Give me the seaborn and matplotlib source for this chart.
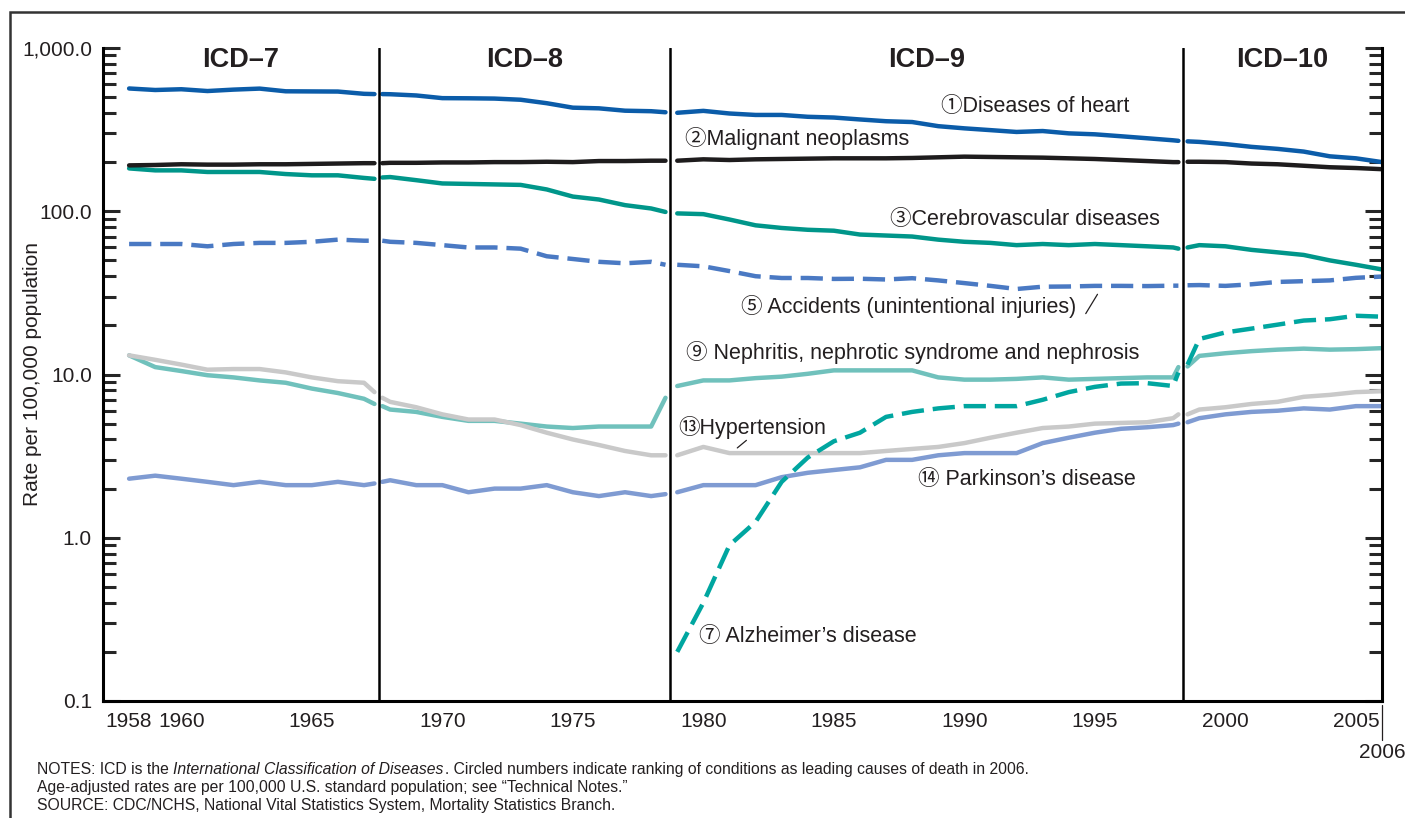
import numpy as np
import pandas as pd
import seaborn as sns
import matplotlib
matplotlib.use("Agg")
import matplotlib.pyplot as plt
from matplotlib.patches import Rectangle
from matplotlib.ticker import LogLocator, NullFormatter

# ------------------------------------------------------------
# DATA  (age-adjusted death rates per 100,000)
# ------------------------------------------------------------
# x positions inside each ICD revision (first/last entries are the
# bridging points drawn right next to the revision boundaries)
years_icd7 = [1958, 1959, 1960, 1961, 1962, 1963, 1964, 1965, 1966, 1967, 1967.4]
years_icd8 = [1967.7, 1968, 1969, 1970, 1971, 1972, 1973, 1974, 1975, 1976, 1977, 1978, 1978.55]
years_icd9 = [1979, 1980, 1981, 1982, 1983, 1984, 1985, 1986, 1987, 1988, 1989,
              1990, 1991, 1992, 1993, 1994, 1995, 1996, 1997, 1998, 1998.2]
years_icd10 = [1998.55, 1999, 2000, 2001, 2002, 2003, 2004, 2005, 2006]

icd_names = ["ICD\u20137", "ICD\u20138", "ICD\u20139", "ICD\u201310"]
icd_bounds = [1967.57, 1978.72, 1998.38]

heart = [565, 553, 559, 545, 556, 564, 543, 542, 541, 524, 522,
         522, 521, 512, 493, 492, 490, 482, 459, 431, 427, 413, 410, 404,
         401, 412, 397, 389, 389, 379, 375, 365, 356, 352, 332, 322, 314, 306, 310, 300, 296, 288, 280, 272, 270,
         268, 266, 258, 248, 241, 232, 217, 211, 200]
cancer = [191, 192, 194, 193, 193, 194, 194, 195, 196, 197, 197,
          197, 198, 198, 199, 199, 200, 200, 201, 200, 203, 203, 204, 204,
          204, 208, 206, 208, 209, 210, 211, 211, 211, 212, 214, 216, 215, 214, 213, 211, 209, 206, 203, 200, 200,
          201, 201, 200, 196, 194, 190, 186, 184, 181]
stroke = [183, 178, 178, 174, 174, 174, 169, 166, 166, 160, 158,
          161, 162, 155, 148, 147, 146, 145, 136, 123, 118, 109, 104, 99,
          97, 96, 89, 82, 79, 77, 76, 72, 71, 70, 67, 65, 64, 62, 63, 62, 63, 62, 61, 60, 59,
          60, 62, 61, 58, 56, 54, 50, 47, 44]
accidents = [63, 63, 63, 61, 63, 64, 64, 65, 67, 66, 66,
             66, 65, 64, 62, 60, 60, 59, 53, 51, 49, 48, 49, 47,
             47, 46, 43, 40, 39, 39, 38.5, 38.6, 38.2, 38.9, 37.7, 36.3, 34.9, 33.4, 34.5, 34.6, 34.9, 34.9, 34.8, 35.0, 35.0,
             35.2, 35.3, 34.9, 35.7, 36.9, 37.3, 37.7, 39.1, 39.8]
alzheimer = [None] * 11 + [None] * 13 + \
            [0.2, 0.4, 0.9, 1.25, 2.2, 3.1, 3.9, 4.4, 5.5, 5.9, 6.2, 6.4, 6.4, 6.4, 7.0, 7.8, 8.4, 8.8, 8.85, 8.5, 10.3,
             11.5, 16.5, 18.1, 19.1, 20.2, 21.4, 21.8, 22.9, 22.6]
nephritis = [13.1, 11.1, 10.5, 9.9, 9.6, 9.2, 8.9, 8.2, 7.7, 7.1, 6.6,
             6.4, 6.1, 5.9, 5.5, 5.2, 5.2, 5.0, 4.8, 4.7, 4.8, 4.8, 4.8, 7.2,
             8.5, 9.2, 9.2, 9.5, 9.7, 10.1, 10.6, 10.6, 10.6, 10.6, 9.6, 9.3, 9.3, 9.4, 9.6, 9.3, 9.4, 9.5, 9.6, 9.6, 11.1,
             11.2, 13.0, 13.5, 13.9, 14.2, 14.4, 14.2, 14.3, 14.5]
hypertension = [13.1, 12.3, 11.5, 10.7, 10.8, 10.8, 10.3, 9.6, 9.1, 8.9, 7.8,
                7.2, 6.8, 6.3, 5.7, 5.3, 5.3, 4.9, 4.4, 4.0, 3.7, 3.4, 3.2, 3.2,
                3.2, 3.6, 3.3, 3.3, 3.3, 3.3, 3.3, 3.3, 3.4, 3.5, 3.6, 3.8, 4.1, 4.4, 4.7, 4.8, 5.0, 5.05, 5.1, 5.4, 5.7,
                5.7, 6.1, 6.3, 6.6, 6.8, 7.3, 7.5, 7.8, 7.9]
parkinson = [2.3, 2.4, 2.3, 2.2, 2.1, 2.2, 2.1, 2.1, 2.2, 2.1, 2.15,
             2.2, 2.25, 2.1, 2.1, 1.9, 2.0, 2.0, 2.1, 1.9, 1.8, 1.9, 1.8, 1.85,
             1.9, 2.1, 2.1, 2.1, 2.35, 2.5, 2.6, 2.7, 3.0, 3.0, 3.2, 3.3, 3.3, 3.3, 3.8, 4.1, 4.4, 4.65, 4.75, 4.9, 5.0,
             5.1, 5.4, 5.7, 5.9, 6.0, 6.2, 6.1, 6.4, 6.4]

series = {
    "parkinson": parkinson,
    "nephritis": nephritis,
    "hypertension": hypertension,
    "alzheimer": alzheimer,
    "accidents": accidents,
    "stroke": stroke,
    "cancer": cancer,
    "heart": heart,
}

# ------------------------------------------------------------
# LONG FORMAT
# ------------------------------------------------------------
years = years_icd7 + years_icd8 + years_icd9 + years_icd10
segment = ([icd_names[0]] * len(years_icd7) + [icd_names[1]] * len(years_icd8)
           + [icd_names[2]] * len(years_icd9) + [icd_names[3]] * len(years_icd10))

frames = []
for name, vals in series.items():
    frames.append(pd.DataFrame({"year": years, "segment": segment,
                                "rate": vals, "cause": name}))
df = pd.concat(frames, ignore_index=True)
df["rate"] = pd.to_numeric(df["rate"])
df = df.dropna(subset=["rate"])

palette = {
    "heart": "#0B5CA9",
    "cancer": "#1E1C1D",
    "stroke": "#00968A",
    "accidents": "#4A79C3",
    "alzheimer": "#00A6A0",
    "nephritis": "#70C1BC",
    "hypertension": "#C9C9C9",
    "parkinson": "#7F9BD2",
}
dash_map = {k: "" for k in palette}
dash_map["accidents"] = (5, 2)
dash_map["alzheimer"] = (5, 2)
order = list(series.keys())

# ------------------------------------------------------------
# PLOT
# ------------------------------------------------------------
sns.set_style("white")
plt.rcParams["font.family"] = ["Liberation Sans", "Noto Sans CJK SC", "DejaVu Sans"]
ink = "#231F20"

fig = plt.figure(figsize=(14.05, 8.18), dpi=100)
ax = fig.add_axes([103 / 1405, 117 / 818, 1279 / 1405, 653 / 818])
ax.set_yscale("log")

sns.lineplot(data=df, x="year", y="rate", hue="cause", style="cause",
             units="segment", estimator=None, hue_order=order, style_order=order,
             palette=palette, dashes=dash_map, linewidth=3.2, sort=False,
             legend=False, ax=ax)

ax.set_xlim(1957, 2006)
ax.set_ylim(0.1, 1000)

# revision boundaries + headers
for b in icd_bounds:
    ax.axvline(b, color="black", lw=1.8, zorder=5)
edges = [1957] + icd_bounds + [2006]
for i, name in enumerate(icd_names):
    ax.text((edges[i] + edges[i + 1]) / 2, 0.971, name,
            transform=ax.get_xaxis_transform(), ha="center", va="baseline",
            fontsize=19.5, fontweight="bold", color=ink)

# axes styling
for side in ["left", "bottom", "right"]:
    ax.spines[side].set_linewidth(2.2)
    ax.spines[side].set_color("black")
ax.spines["top"].set_visible(False)

ax.set_yticks([0.1, 1, 10, 100, 1000],
              labels=["0.1", "1.0", "10.0", "100.0", "1,000.0"])
ax.yaxis.set_minor_locator(LogLocator(base=10, subs=np.arange(2, 10)))
ax.yaxis.set_minor_formatter(NullFormatter())
ax.tick_params(axis="y", which="major", direction="in", length=12, width=2.2,
               left=True, right=True, labelsize=15, pad=8, labelcolor=ink)
ax.tick_params(axis="y", which="minor", direction="in", length=9.5, width=2.2,
               left=True, right=True)

ax.set_xticks(list(range(1960, 2006, 5)))
minor_years = list(range(1958, 2007))
ax.set_xticks(minor_years, minor=True,
              labels=["1958"] + [""] * (len(minor_years) - 1))
ax.tick_params(axis="x", which="major", direction="in", length=9.5, width=1.6,
               labelsize=15, pad=8, labelcolor=ink)
ax.tick_params(axis="x", which="minor", direction="in", length=5, width=1.6,
               labelsize=15, pad=8, labelcolor=ink)

ax.set_xlabel("")
ax.set_ylabel("")
fig.text(33 / 1405, 1 - 374 / 818, "Rate per 100,000 population", rotation=90,
         ha="center", va="center", fontsize=15, color=ink)

# 2006 marker under the axis
bt = ax.get_xaxis_transform()
ax.plot([2006, 2006], [-0.006, -0.06], transform=bt, color=ink, lw=0.9, clip_on=False)
ax.text(2006, -0.087, "2006", transform=bt, ha="center", va="baseline",
        fontsize=15, color=ink)

# series labels
labels = [
    ("\u2460Diseases of heart", 1989.09, 404),
    ("\u2461Malignant neoplasms", 1979.30, 254),
    ("\u2462Cerebrovascular diseases", 1987.15, 82),
    ("\u2464 Accidents (unintentional injuries)", 1981.44, 23.7),
    ("\u2468 Nephritis, nephrotic syndrome and nephrosis", 1979.34, 12.4),
    ("\u246cHypertension", 1979.05, 4.35),
    ("\u246d Parkinson\u2019s disease", 1988.23, 2.11),
    ("\u2466 Alzheimer\u2019s disease", 1979.84, 0.23),
]
for txt, lx, ly in labels:
    ax.text(lx, ly, txt, ha="left", va="baseline", fontsize=15.5, color=ink)

# leader lines
ax.plot([1994.65, 1995.1], [23.6, 31.0], color=ink, lw=0.9)
ax.plot([1981.3, 1981.65], [3.55, 3.95], color=ink, lw=0.9)

# frame
fig.add_artist(Rectangle((10 / 1405, -0.2), 1.3, 1 - 12 / 818 + 0.2,
                         transform=fig.transFigure, fill=False,
                         lw=1.8, edgecolor="#333333"))

# notes
fig.canvas.draw()
renderer = fig.canvas.get_renderer()
note_fs = 11.3
space_px = note_fs * 0.278 * fig.dpi / 72
x0 = 37 / 1405
parts = [("NOTES: ICD is the", "normal", space_px),
         ("International Classification of Diseases", "italic", 1),
         (". Circled numbers indicate ranking of conditions as leading causes of death in 2006.", "normal", 0)]
xcur = x0
for s, st, gap in parts:
    t = fig.text(xcur, 1 - 774 / 818, s, fontsize=note_fs, style=st,
                 color=ink, va="baseline")
    ext = t.get_window_extent(renderer)
    xcur = (ext.x1 + gap) / fig.bbox.width
fig.text(x0, 1 - 792 / 818, "Age-adjusted rates are per 100,000 U.S. standard population; see \u201cTechnical Notes.\u201d",
         fontsize=note_fs, color=ink, va="baseline")
fig.text(x0, 1 - 810 / 818, "SOURCE: CDC/NCHS, National Vital Statistics System, Mortality Statistics Branch.",
         fontsize=note_fs, color=ink, va="baseline")

fig.savefig("out.png", dpi=100)
